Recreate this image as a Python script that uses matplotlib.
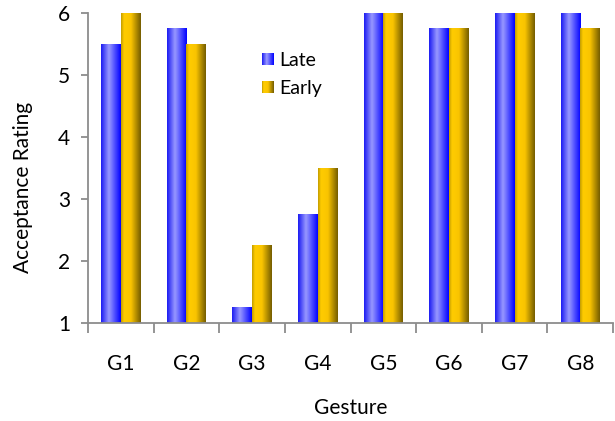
import numpy as np
import matplotlib
matplotlib.use("Agg")
import matplotlib.pyplot as plt
from matplotlib.colors import LinearSegmentedColormap
from matplotlib.patches import Rectangle
from matplotlib.legend_handler import HandlerPatch

plt.rcParams['font.family'] = ['Lato', 'DejaVu Sans']

categories = ["G1", "G2", "G3", "G4", "G5", "G6", "G7", "G8"]
late = [5.5, 5.75, 1.25, 2.75, 6.0, 5.75, 6.0, 6.0]
early = [6.0, 5.5, 2.25, 3.5, 6.0, 5.75, 6.0, 5.75]
series_names = ["Late", "Early"]

blue_cmap = LinearSegmentedColormap.from_list(
    "blue_grad",
    [(0.0, (0.10, 0.10, 0.95)), (0.40, (0.60, 0.60, 1.0)), (1.0, (0.0, 0.0, 1.0))])
gold_cmap = LinearSegmentedColormap.from_list(
    "gold_grad",
    [(0.0, (0.75, 0.60, 0.0)), (0.15, (1.0, 0.80, 0.0)), (0.5, (0.98, 0.77, 0.0)),
     (1.0, (0.45, 0.36, 0.0))])

fig = plt.figure(figsize=(6.15, 4.21), dpi=100)
ax = fig.add_axes([88 / 615, 1 - 323 / 421, 525 / 615, 310 / 421])

n = len(categories)
x = np.arange(n)
w = 0.3
ax.set_xlim(-0.5, n - 0.5)
ax.set_ylim(1, 6)

grad = np.linspace(0, 1, 256).reshape(1, -1)

def gradient_bars(xpos, vals, cmap):
    bars = ax.bar(xpos, np.array(vals) - 1, width=w, bottom=1, color='none', edgecolor='none')
    for b in bars:
        x0, y0 = b.get_x(), b.get_y()
        bw, bh = b.get_width(), b.get_height()
        ax.imshow(grad, cmap=cmap, extent=(x0, x0 + bw, y0, y0 + bh),
                  aspect='auto', interpolation='bicubic', zorder=2)
    return bars

gradient_bars(x - w / 2, late, blue_cmap)
gradient_bars(x + w / 2, early, gold_cmap)
ax.set_xlim(-0.5, n - 0.5)
ax.set_ylim(1, 6)

class GradHandler(HandlerPatch):
    def __init__(self, cmap):
        super().__init__()
        self.cmap = cmap
    def create_artists(self, legend, orig_handle, xdescent, ydescent, width, height, fontsize, trans):
        arts = []
        k = 12
        sw = width
        x0 = -xdescent
        for i in range(k):
            r = Rectangle((x0 + i * sw / k, -ydescent + (height - sw) / 2), sw / k + 0.3, sw,
                          facecolor=self.cmap((i + 0.5) / k), edgecolor='none', transform=trans)
            arts.append(r)
        return arts

h1 = Rectangle((0, 0), 1, 1)
h2 = Rectangle((0, 0), 1, 1)
leg = ax.legend([h1, h2], series_names,
                handler_map={h1: GradHandler(blue_cmap), h2: GradHandler(gold_cmap)},
                loc='upper left', bbox_to_anchor=((262 - 88) / 525, (323 - 52) / 310),
                frameon=False, borderpad=0, borderaxespad=0,
                fontsize=14, handlelength=0.62, handletextpad=0.25, labelspacing=0.55)

for s in ['top', 'right']:
    ax.spines[s].set_visible(False)
for s in ['left', 'bottom']:
    ax.spines[s].set_color('#8c8c8c')
    ax.spines[s].set_linewidth(1.3)

ax.set_yticks([1, 2, 3, 4, 5, 6])
ax.set_yticklabels(["1", "2", "3", "4", "5", "6"])
ax.set_xticks(np.arange(n + 1) - 0.5)
ax.set_xticklabels([])
ax.set_xticks(x, minor=True)
ax.set_xticklabels(categories, minor=True)
ax.tick_params(axis='x', which='major', length=7, color='#8c8c8c', width=1.3)
ax.tick_params(axis='x', which='minor', length=0, pad=22, labelsize=15)
ax.tick_params(axis='y', length=5, color='#8c8c8c', width=1.3, labelsize=15, pad=8)

ax.set_xlabel("Gesture", fontsize=15)
ax.set_ylabel("Acceptance Rating", fontsize=15)
ax.xaxis.set_label_coords(0.5, (323 - 398) / 310)
ax.yaxis.set_label_coords((33 - 88) / 525, 0.5 + (323 - 187 - 155) / 310)

fig.savefig("out.png", dpi=100)
